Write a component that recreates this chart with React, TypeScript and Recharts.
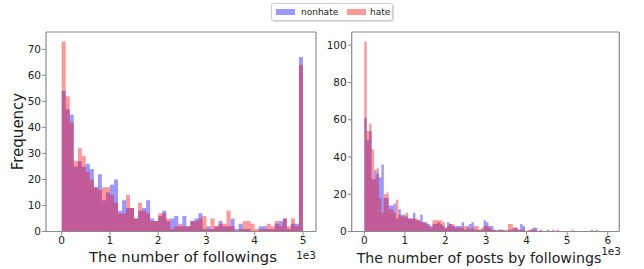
import React from 'react';
import { AreaChart, Area, XAxis, YAxis, ReferenceLine } from 'recharts';

const FONT = '"DejaVu Sans", Verdana, sans-serif';
const SPINE = '#8a8a8a';
const TEXT = '#222222';
const BLUE = '#0000ff';
const RED = '#ff0000';
const ALPHA = 0.4;

// Left panel: number of followings (60 bins over 0..5000)
const LEFT_RANGE = [0, 5000];
const LEFT_NONHATE = [
  54, 47, 45, 25, 27, 25, 26, 24, 17, 22,
  12, 15, 18, 20, 8, 12, 9, 9, 5, 8,
  9, 12, 5, 4, 6, 8, 4, 5, 6, 2,
  6, 2, 4, 5, 7, 1, 2, 1, 2, 4,
  2, 2, 5, 1, 3, 1, 1, 0, 0, 2,
  2, 1, 1, 3, 4, 5, 1, 3, 3, 67,
];
const LEFT_HATE = [
  73, 52, 42, 27, 32, 29, 23, 20, 17, 16,
  17, 17, 14, 11, 7, 7, 14, 9, 5, 11,
  8, 7, 4, 4, 7, 7, 5, 1, 2, 3,
  2, 2, 4, 4, 5, 6, 1, 5, 2, 3,
  3, 8, 2, 0, 1, 4, 4, 3, 1, 1,
  1, 3, 2, 4, 2, 5, 2, 5, 2, 64,
];
const LEFT_X_TICKS = [0, 1000, 2000, 3000, 4000, 5000];
const LEFT_Y_TICKS = [0, 10, 20, 30, 40, 50, 60, 70];

// Right panel: number of posts by followings (100 bins over 0..6000)
const RIGHT_RANGE = [0, 6000];
const RIGHT_NONHATE = [
  61, 49, 54, 28, 33, 31, 29, 36, 18, 18,
  14, 14, 15, 7, 12, 9, 9, 8, 7, 7,
  10, 6, 6, 9, 5, 5, 4, 3, 4, 4,
  5, 4, 3, 2, 5, 4, 3, 3, 3, 3,
  5, 1, 2, 4, 5, 1, 1, 1, 1, 6,
  5, 3, 3, 1, 0, 1, 1, 1, 0, 1,
  1, 2, 2, 1, 4, 3, 0, 0, 1, 2,
  2, 0, 1, 0, 0, 1, 0, 1, 0, 0,
  0, 0, 0, 0, 0, 0, 0, 0, 0, 0,
  0, 0, 0, 1, 0, 0, 0, 0, 0, 0,
];
const RIGHT_HATE = [
  102, 54, 58, 44, 28, 34, 18, 10, 20, 21,
  12, 12, 10, 17, 9, 8, 8, 10, 7, 7,
  7, 7, 6, 5, 5, 4, 3, 2, 6, 6,
  6, 6, 5, 2, 3, 4, 4, 2, 2, 2,
  2, 3, 3, 1, 2, 3, 3, 1, 2, 3,
  3, 2, 1, 1, 1, 1, 1, 0, 1, 4,
  4, 2, 2, 1, 1, 1, 0, 1, 1, 1,
  1, 0, 0, 0, 0, 0, 0, 0, 0, 1,
  0, 0, 0, 0, 0, 1, 0, 0, 0, 0,
  0, 0, 0, 0, 0, 1, 0, 0, 0, 0,
];
const RIGHT_X_TICKS = [0, 1000, 2000, 3000, 4000, 5000, 6000];
const RIGHT_Y_TICKS = [0, 20, 40, 60, 80, 100];

const SERIES_NAMES = ['nonhate', 'hate'];

function buildRows(range: number[], a: number[], b: number[]) {
  const w = (range[1] - range[0]) / a.length;
  const rows = a.map((v, i) => ({ x: range[0] + i * w, nonhate: v, hate: b[i] }));
  rows.push({ x: range[1], nonhate: 0, hate: 0 });
  return rows;
}

type PanelProps = {
  left: number;
  width: number;
  yAxisWidth: number;
  marginRight: number;
  xDomain: number[];
  yDomain: number[];
  xTicks: number[];
  yTicks: number[];
  rows: any[];
};

function Panel(p: PanelProps) {
  const tick = { fill: TEXT, fontSize: 10.5, fontFamily: FONT };
  return (
    <div style={{ position: 'absolute', left: p.left, top: 0, width: p.width, height: 269 }}>
      <AreaChart
        width={p.width}
        height={269}
        data={p.rows}
        margin={{ top: 32, right: p.marginRight, left: 0, bottom: 0 }}
      >
        <XAxis
          dataKey="x"
          type="number"
          domain={p.xDomain}
          allowDataOverflow
          ticks={p.xTicks}
          interval={0}
          tickFormatter={(v: number) => String(v / 1000)}
          height={37.5}
          tickSize={4}
          tickMargin={1}
          axisLine={{ stroke: SPINE, strokeWidth: 1.2 }}
          tickLine={{ stroke: SPINE }}
          tick={tick}
        />
        <YAxis
          type="number"
          domain={p.yDomain}
          allowDataOverflow
          ticks={p.yTicks}
          interval={0}
          width={p.yAxisWidth}
          tickSize={4}
          tickMargin={1}
          axisLine={{ stroke: SPINE, strokeWidth: 1.2 }}
          tickLine={{ stroke: SPINE }}
          tick={tick}
        />
        <Area
          type="stepAfter"
          dataKey="nonhate"
          stroke="none"
          fill={BLUE}
          fillOpacity={ALPHA}
          dot={false}
          activeDot={false}
          isAnimationActive={false}
        />
        <Area
          type="stepAfter"
          dataKey="hate"
          stroke="none"
          fill={RED}
          fillOpacity={ALPHA}
          dot={false}
          activeDot={false}
          isAnimationActive={false}
        />
        <ReferenceLine y={p.yDomain[1]} stroke={SPINE} strokeWidth={1.2} ifOverflow="visible" />
        <ReferenceLine x={p.xDomain[1]} stroke={SPINE} strokeWidth={1.2} ifOverflow="visible" />
      </AreaChart>
    </div>
  );
}

export default function App() {
  const leftRows = buildRows(LEFT_RANGE, LEFT_NONHATE, LEFT_HATE);
  const rightRows = buildRows(RIGHT_RANGE, RIGHT_NONHATE, RIGHT_HATE);
  const leftMax = Math.max(...LEFT_NONHATE, ...LEFT_HATE) * 1.05;
  const rightMax = Math.max(...RIGHT_NONHATE, ...RIGHT_HATE) * 1.05;
  return (
    <div style={{ position: 'absolute', left: 0, top: 0, width: 644, height: 269, background: '#fff', fontFamily: FONT }}>
      <Panel
        left={0}
        width={330}
        yAxisWidth={46}
        marginRight={14}
        xDomain={[-325, 5270]}
        yDomain={[0, leftMax]}
        xTicks={LEFT_X_TICKS}
        yTicks={LEFT_Y_TICKS}
        rows={leftRows}
      />
      <Panel
        left={310}
        width={334}
        yAxisWidth={41.7}
        marginRight={24.7}
        xDomain={[-311, 6285]}
        yDomain={[0, rightMax]}
        xTicks={RIGHT_X_TICKS}
        yTicks={RIGHT_Y_TICKS}
        rows={rightRows}
      />
      <svg width={644} height={269} style={{ position: 'absolute', left: 0, top: 0, pointerEvents: 'none' }}>
        <text x={22.5} y={131.5} transform="rotate(-90 22.5 131.5)" textAnchor="middle" fontSize={15} fill={TEXT} fontFamily={FONT}>Frequency</text>
        <text x={183} y={262} textAnchor="middle" fontSize={14.8} fill={TEXT} fontFamily={FONT}>The number of followings</text>
        <text x={479} y={263} textAnchor="middle" fontSize={14.2} fill={TEXT} fontFamily={FONT}>The number of posts by followings</text>
        <text x={316} y={259} textAnchor="end" fontSize={10.5} fill={TEXT} fontFamily={FONT}>1e3</text>
        <text x={621} y={255} textAnchor="end" fontSize={10.5} fill={TEXT} fontFamily={FONT}>1e3</text>
      </svg>
      <div style={{ position: 'absolute', left: 271, top: 3, width: 120, height: 16, border: '1px solid #cccccc', borderRadius: 3, background: 'rgba(255,255,255,0.8)', boxShadow: '1px 1px 1px rgba(0,0,0,0.15)' }}>
        <div style={{ position: 'absolute', left: 4, top: 5, width: 19, height: 6, background: BLUE, opacity: ALPHA }} />
        <div style={{ position: 'absolute', left: 29, top: 1, fontSize: 9, lineHeight: '14px', color: TEXT, fontFamily: FONT, whiteSpace: 'nowrap' }}>{SERIES_NAMES[0]}</div>
        <div style={{ position: 'absolute', left: 75, top: 5, width: 19, height: 6, background: RED, opacity: ALPHA }} />
        <div style={{ position: 'absolute', left: 98, top: 1, fontSize: 9, lineHeight: '14px', color: TEXT, fontFamily: FONT, whiteSpace: 'nowrap' }}>{SERIES_NAMES[1]}</div>
      </div>
    </div>
  );
}
